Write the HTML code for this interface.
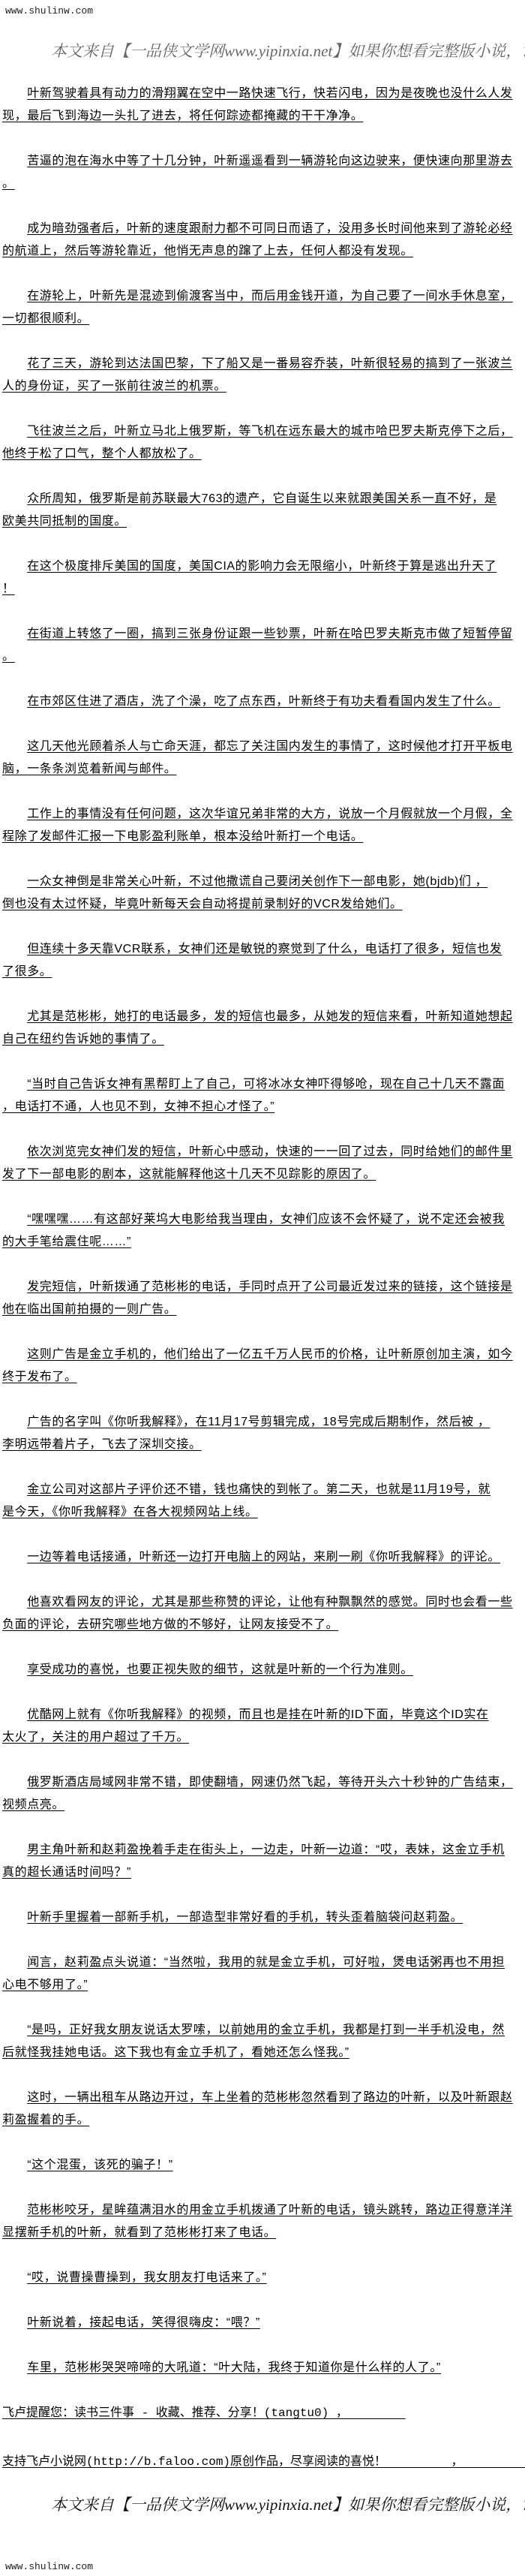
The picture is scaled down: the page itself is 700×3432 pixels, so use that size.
<!DOCTYPE html>
<html><head><meta charset="utf-8">
<style>
html,body{margin:0;padding:0;background:#fff;}
body{width:700px;height:3432px;position:relative;overflow:hidden;font-family:"Liberation Sans","Noto Sans CJK SC","WenQuanYi Zen Hei",sans-serif;color:#000;}
.site{position:absolute;left:7px;font-family:"Liberation Mono",monospace;font-size:13px;color:#222;line-height:16px;}
.banner{position:absolute;left:68px;width:632px;overflow:hidden;white-space:nowrap;font-family:"Liberation Serif","Noto Serif CJK SC",serif;font-size:21px;font-style:italic;font-weight:normal;line-height:26px;color:#666;}
.banner.b2{color:#111;}
#txt{position:absolute;left:3px;top:110px;width:697px;overflow:hidden;font-size:16px;letter-spacing:0.6px;line-height:30px;white-space:nowrap;}
#txt p{margin:0 0 30px 0;}
#txt span{text-decoration:underline;text-underline-offset:3px;}
.ft{font-family:"Liberation Mono","Noto Sans CJK SC",monospace;letter-spacing:0;}
</style></head><body>
<div class="site" style="top:7px">www.shulinw.com</div>
<div class="banner" style="top:55px">本文来自【一品侠文学网www.yipinxia.net】如果你想看完整版小说，请</div>
<div id="txt">
<p>　　<span>叶新驾驶着具有动力的滑翔翼在空中一路快速飞行，快若闪电，因为是夜晚也没什么人发</span><br><span>现，最后飞到海边一头扎了进去，将任何踪迹都掩藏的干干净净。</span></p>
<p>　　<span>苦逼的泡在海水中等了十几分钟，叶新遥遥看到一辆游轮向这边驶来，便快速向那里游去</span><br><span>。</span></p>
<p>　　<span>成为暗劲强者后，叶新的速度跟耐力都不可同日而语了，没用多长时间他来到了游轮必经</span><br><span>的航道上，然后等游轮靠近，他悄无声息的蹿了上去，任何人都没有发现。</span></p>
<p>　　<span>在游轮上，叶新先是混迹到偷渡客当中，而后用金钱开道，为自己要了一间水手休息室，</span><br><span>一切都很顺利。</span></p>
<p>　　<span>花了三天，游轮到达法国巴黎，下了船又是一番易容乔装，叶新很轻易的搞到了一张波兰</span><br><span>人的身份证，买了一张前往波兰的机票。</span></p>
<p>　　<span>飞往波兰之后，叶新立马北上俄罗斯，等飞机在远东最大的城市哈巴罗夫斯克停下之后，</span><br><span>他终于松了口气，整个人都放松了。</span></p>
<p>　　<span>众所周知，俄罗斯是前苏联最大763的遗产，它自诞生以来就跟美国关系一直不好，是</span><br><span>欧美共同抵制的国度。</span></p>
<p>　　<span>在这个极度排斥美国的国度，美国CIA的影响力会无限缩小，叶新终于算是逃出升天了</span><br><span>！</span></p>
<p>　　<span>在街道上转悠了一圈，搞到三张身份证跟一些钞票，叶新在哈巴罗夫斯克市做了短暂停留</span><br><span>。</span></p>
<p>　　<span>在市郊区住进了酒店，洗了个澡，吃了点东西，叶新终于有功夫看看国内发生了什么。</span></p>
<p>　　<span>这几天他光顾着杀人与亡命天涯，都忘了关注国内发生的事情了，这时候他才打开平板电</span><br><span>脑，一条条浏览着新闻与邮件。</span></p>
<p>　　<span>工作上的事情没有任何问题，这次华谊兄弟非常的大方，说放一个月假就放一个月假，全</span><br><span>程除了发邮件汇报一下电影盈利账单，根本没给叶新打一个电话。</span></p>
<p>　　<span>一众女神倒是非常关心叶新，不过他撒谎自己要闭关创作下一部电影，她(bjdb)们 ，</span><br><span>倒也没有太过怀疑，毕竟叶新每天会自动将提前录制好的VCR发给她们。</span></p>
<p>　　<span>但连续十多天靠VCR联系，女神们还是敏锐的察觉到了什么，电话打了很多，短信也发</span><br><span>了很多。</span></p>
<p>　　<span>尤其是范彬彬，她打的电话最多，发的短信也最多，从她发的短信来看，叶新知道她想起</span><br><span>自己在纽约告诉她的事情了。</span></p>
<p>　　<span>“当时自己告诉女神有黑帮盯上了自己，可将冰冰女神吓得够呛，现在自己十几天不露面</span><br><span>，电话打不通，人也见不到，女神不担心才怪了。”</span></p>
<p>　　<span>依次浏览完女神们发的短信，叶新心中感动，快速的一一回了过去，同时给她们的邮件里</span><br><span>发了下一部电影的剧本，这就能解释他这十几天不见踪影的原因了。</span></p>
<p>　　<span>“嘿嘿嘿……有这部好莱坞大电影给我当理由，女神们应该不会怀疑了，说不定还会被我</span><br><span>的大手笔给震住呢……”</span></p>
<p>　　<span>发完短信，叶新拨通了范彬彬的电话，手同时点开了公司最近发过来的链接，这个链接是</span><br><span>他在临出国前拍摄的一则广告。</span></p>
<p>　　<span>这则广告是金立手机的，他们给出了一亿五千万人民币的价格，让叶新原创加主演，如今</span><br><span>终于发布了。</span></p>
<p>　　<span>广告的名字叫《你听我解释》，在11月17号剪辑完成，18号完成后期制作，然后被 ，</span><br><span>李明远带着片子，飞去了深圳交接。</span></p>
<p>　　<span>金立公司对这部片子评价还不错，钱也痛快的到帐了。第二天，也就是11月19号，就</span><br><span>是今天，《你听我解释》在各大视频网站上线。</span></p>
<p>　　<span>一边等着电话接通，叶新还一边打开电脑上的网站，来刷一刷《你听我解释》的评论。</span></p>
<p>　　<span>他喜欢看网友的评论，尤其是那些称赞的评论，让他有种飘飘然的感觉。同时也会看一些</span><br><span>负面的评论，去研究哪些地方做的不够好，让网友接受不了。</span></p>
<p>　　<span>享受成功的喜悦，也要正视失败的细节，这就是叶新的一个行为准则。</span></p>
<p>　　<span>优酷网上就有《你听我解释》的视频，而且也是挂在叶新的ID下面，毕竟这个ID实在</span><br><span>太火了，关注的用户超过了千万。</span></p>
<p>　　<span>俄罗斯酒店局域网非常不错，即使翻墙，网速仍然飞起，等待开头六十秒钟的广告结束，</span><br><span>视频点亮。</span></p>
<p>　　<span>男主角叶新和赵莉盈挽着手走在街头上，一边走，叶新一边道：“哎，表妹，这金立手机</span><br><span>真的超长通话时间吗？”</span></p>
<p>　　<span>叶新手里握着一部新手机，一部造型非常好看的手机，转头歪着脑袋问赵莉盈。</span></p>
<p>　　<span>闻言，赵莉盈点头说道：“当然啦，我用的就是金立手机，可好啦，煲电话粥再也不用担</span><br><span>心电不够用了。”</span></p>
<p>　　<span>“是吗，正好我女朋友说话太罗嗦，以前她用的金立手机，我都是打到一半手机没电，然</span><br><span>后就怪我挂她电话。这下我也有金立手机了，看她还怎么怪我。”</span></p>
<p>　　<span>这时，一辆出租车从路边开过，车上坐着的范彬彬忽然看到了路边的叶新，以及叶新跟赵</span><br><span>莉盈握着的手。</span></p>
<p>　　<span>“这个混蛋，该死的骗子！”</span></p>
<p>　　<span>范彬彬咬牙，星眸蕴满泪水的用金立手机拨通了叶新的电话，镜头跳转，路边正得意洋洋</span><br><span>显摆新手机的叶新，就看到了范彬彬打来了电话。</span></p>
<p>　　<span>“哎，说曹操曹操到，我女朋友打电话来了。”</span></p>
<p>　　<span>叶新说着，接起电话，笑得很嗨皮：“喂？”</span></p>
<p>　　<span>车里，范彬彬哭哭啼啼的大吼道：“叶大陆，我终于知道你是什么样的人了。” </span></p>
<p class="ft" style="margin-bottom:35px"><span>飞卢提醒您：读书三件事 - 收藏、推荐、分享！(tangtu0) ，&nbsp;&nbsp;&nbsp;&nbsp;&nbsp;&nbsp;&nbsp;&nbsp;</span></p>
<p class="ft"><span>支持飞卢小说网(http://b.faloo.com)原创作品，尽享阅读的喜悦！&nbsp;&nbsp;&nbsp;&nbsp;&nbsp;&nbsp;&nbsp;&nbsp;&nbsp;， &nbsp;&nbsp;&nbsp;&nbsp;&nbsp;&nbsp;&nbsp;&nbsp;&nbsp;&nbsp;&nbsp;&nbsp;&nbsp;，</span></p>
</div>
<div class="banner b2" style="top:3324px">本文来自【一品侠文学网www.yipinxia.net】如果你想看完整版小说，请</div>
<div class="site" style="top:3412px">www.shulinw.com</div>
</body></html>
